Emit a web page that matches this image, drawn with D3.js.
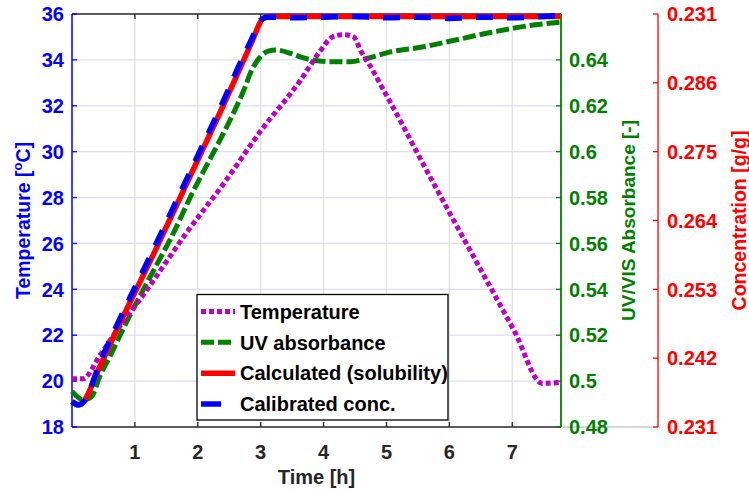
<!DOCTYPE html>
<html lang="en">
<head>
  <meta charset="UTF-8">
  <title>Temperature, UV absorbance and concentration</title>
  <script src="https://d3js.org/d3.v7.min.js"></script>
  <style>
    body { margin: 0; background: #fff; }
    svg text { font-family: "Liberation Sans", Arial, sans-serif; font-weight: bold; }
  </style>
</head>
<body>
  <svg width="749" height="490"></svg>

  <script>
    // --- data ---
    const tempTime   = [0.0, 0.17, 0.44, 0.71, 1.17, 1.83, 2.41, 3.0, 3.63, 3.95, 4.14, 4.32, 4.48, 4.59, 4.75, 4.91, 5.23, 5.44, 5.99, 6.47, 7.03, 7.48, 7.77];
    const tempValues = [20.1, 20.1, 21.1, 22.2, 23.9, 26.5, 28.6, 30.9, 33.1, 34.4, 35.0, 35.1, 35.0, 34.4, 33.7, 32.9, 31.3, 30.2, 27.4, 25.0, 22.2, 19.9, 19.95];

    const uvTime   = [0.0, 0.18, 0.31, 0.44, 0.6, 0.83, 1.3, 1.57, 1.91, 2.36, 2.57, 2.75, 2.84, 3.0, 3.12, 3.24, 3.48, 3.63, 4.1, 4.43, 4.7, 5.06, 5.59, 5.97, 6.61, 7.34, 7.77];
    const uvValues = [0.4955, 0.4918, 0.4932, 0.502, 0.5106, 0.5237, 0.5484, 0.5622, 0.5818, 0.6055, 0.617, 0.628, 0.6345, 0.6415, 0.6438, 0.6443, 0.6428, 0.6413, 0.6392, 0.6392, 0.6407, 0.6435, 0.6457, 0.6479, 0.6517, 0.6552, 0.6565];

    const calcTime   = [0.0, 0.12, 0.44, 0.71, 1.3, 1.86, 2.41, 2.68, 2.87, 3.03, 3.15, 4.0, 5.0, 6.0, 7.0, 7.77];
    const calcValues = [0.2350, 0.2346, 0.2406, 0.2465, 0.2587, 0.2707, 0.2825, 0.2885, 0.2928, 0.2962, 0.2966, 0.2966, 0.2966, 0.2966, 0.2966, 0.2966];

    const calibTime   = [0.0, 0.1, 0.2, 0.44, 0.71, 1.3, 1.86, 2.41, 2.68, 2.87, 2.98, 3.1, 3.5, 4.0, 4.5, 5.0, 5.5, 6.0, 6.5, 7.0, 7.5, 7.77];
    const calibValues = [0.2351, 0.2345, 0.2352, 0.2412, 0.2472, 0.2595, 0.2714, 0.2832, 0.2893, 0.2933, 0.2958, 0.2965, 0.2964, 0.2965, 0.2966, 0.2964, 0.2965, 0.2963, 0.2965, 0.2964, 0.2966, 0.2968];

    const timeTicks = [1, 2, 3, 4, 5, 6, 7];
    const tempTicks = [18, 20, 22, 24, 26, 28, 30, 32, 34, 36];
    const uvTicks   = [0.48, 0.5, 0.52, 0.54, 0.56, 0.58, 0.6, 0.62, 0.64];
    const concTicks = [0.231, 0.242, 0.253, 0.264, 0.275, 0.286, 0.297];
    const concTickLabels = ["0.231", "0.242", "0.253", "0.264", "0.275", "0.286", "0.231"];

    const legendNames = ["Temperature", "UV absorbance", "Calculated (solubility)", "Calibrated conc."];

    // --- layout ---
    const plotL = 72, plotR = 561, plotT = 14, plotB = 427;
    const redAxisX = 658;

    const C = { temp: "#bf00bf", uv: "#008000", calc: "#ff0000", calib: "#0000ff", dark: "#262626" };

    const svg = d3.select("svg");

    const x  = d3.scaleLinear().domain([0, 7.775]).range([plotL, plotR]);
    const yT = d3.scaleLinear().domain([18, 36]).range([plotB, plotT]);
    const yA = d3.scaleLinear().domain([0.48, 0.66]).range([plotB, plotT]);
    const yC = d3.scaleLinear().domain([0.231, 0.297]).range([plotB, plotT]);

    // grid
    const grid = svg.append("g");
    grid.selectAll(".vg").data(timeTicks).enter().append("line")
        .attr("x1", d => x(d)).attr("x2", d => x(d))
        .attr("y1", plotT).attr("y2", plotB)
        .attr("stroke", "#e2e2e2").attr("stroke-width", 1.3);
    grid.selectAll(".hg").data(tempTicks.filter(d => d > 18 && d < 36)).enter().append("line")
        .attr("x1", plotL).attr("x2", plotR)
        .attr("y1", d => yT(d)).attr("y2", d => yT(d))
        .attr("stroke", "#dcdcf8").attr("stroke-width", 1.3);

    // box lines
    svg.append("line").attr("x1", plotL).attr("x2", plotR).attr("y1", plotT).attr("y2", plotT)
       .attr("stroke", C.dark).attr("stroke-width", 1.5);
    svg.append("line").attr("x1", plotR).attr("x2", redAxisX).attr("y1", plotB).attr("y2", plotB)
       .attr("stroke", "#c8c8c8").attr("stroke-width", 1.3);
    svg.append("line").attr("x1", plotL).attr("x2", plotR).attr("y1", plotB).attr("y2", plotB)
       .attr("stroke", C.dark).attr("stroke-width", 1.5);

    // x ticks (bottom and top, pointing inwards)
    svg.selectAll(".xt").data(timeTicks).enter().append("line")
       .attr("x1", d => x(d)).attr("x2", d => x(d)).attr("y1", plotB).attr("y2", plotB - 5)
       .attr("stroke", C.dark).attr("stroke-width", 1.3);
    svg.selectAll(".xtt").data(timeTicks).enter().append("line")
       .attr("x1", d => x(d)).attr("x2", d => x(d)).attr("y1", plotT).attr("y2", plotT + 5)
       .attr("stroke", C.dark).attr("stroke-width", 1.3);
    svg.selectAll(".xl").data(timeTicks).enter().append("text")
       .attr("x", d => x(d)).attr("y", 459)
       .attr("text-anchor", "middle").attr("font-size", 20).attr("fill", C.dark)
       .text(d => d);
    svg.append("text").attr("x", (plotL + plotR) / 2).attr("y", 484)
       .attr("text-anchor", "middle").attr("font-size", 20).attr("fill", C.dark)
       .text("Time [h]");

    // left axis (temperature)
    svg.append("line").attr("x1", plotL).attr("x2", plotL).attr("y1", plotT).attr("y2", plotB)
       .attr("stroke", C.calib).attr("stroke-width", 1.5);
    svg.selectAll(".lt").data(tempTicks).enter().append("line")
       .attr("x1", plotL).attr("x2", plotL + 5).attr("y1", d => yT(d)).attr("y2", d => yT(d))
       .attr("stroke", C.calib).attr("stroke-width", 1.3);
    svg.selectAll(".ll").data(tempTicks).enter().append("text")
       .attr("x", 64).attr("y", d => yT(d)).attr("dy", "0.36em")
       .attr("text-anchor", "end").attr("font-size", 20).attr("fill", C.calib)
       .text(d => d);
    const tl = svg.append("text")
       .attr("transform", `translate(30,${(plotT + plotB) / 2}) rotate(-90)`)
       .attr("text-anchor", "middle").attr("font-size", 19.5).attr("fill", C.calib);
    tl.append("tspan").text("Temperature [");
    tl.append("tspan").attr("font-size", 13).attr("dy", -8).text("o");
    tl.append("tspan").attr("dy", 8).text("C]");

    // middle right axis (UV absorbance)
    svg.append("line").attr("x1", plotR).attr("x2", plotR).attr("y1", plotT).attr("y2", plotB)
       .attr("stroke", C.uv).attr("stroke-width", 1.8);
    svg.selectAll(".gt").data(uvTicks).enter().append("line")
       .attr("x1", plotR).attr("x2", plotR - 5).attr("y1", d => yA(d)).attr("y2", d => yA(d))
       .attr("stroke", C.uv).attr("stroke-width", 1.3);
    svg.selectAll(".gl").data(uvTicks).enter().append("text")
       .attr("x", 569).attr("y", d => yA(d)).attr("dy", "0.36em")
       .attr("font-size", 20).attr("fill", C.uv)
       .text(d => d3.format("")(d));
    svg.append("text")
       .attr("transform", `translate(635,${(plotT + plotB) / 2}) rotate(-90)`)
       .attr("text-anchor", "middle").attr("font-size", 19).attr("fill", C.uv)
       .text("UV/VIS Absorbance [-]");

    // far right axis (concentration)
    svg.append("line").attr("x1", redAxisX).attr("x2", redAxisX).attr("y1", plotT).attr("y2", plotB)
       .attr("stroke", C.calc).attr("stroke-width", 1.3);
    svg.selectAll(".rt").data(concTicks).enter().append("line")
       .attr("x1", redAxisX).attr("x2", redAxisX - 5).attr("y1", d => yC(d)).attr("y2", d => yC(d))
       .attr("stroke", C.calc).attr("stroke-width", 1.3);
    svg.selectAll(".rl").data(concTicks).enter().append("text")
       .attr("x", 667).attr("y", d => yC(d)).attr("dy", "0.36em")
       .attr("font-size", 20).attr("fill", C.calc)
       .text((d, i) => concTickLabels[i]);
    svg.append("text")
       .attr("transform", `translate(746,${(plotT + plotB) / 2}) rotate(-90)`)
       .attr("text-anchor", "middle").attr("font-size", 19.5).attr("fill", C.calc)
       .text("Concentration [g/g]");

    // curves
    const styles = {
      temp:  { color: C.temp,  width: 5,   dash: "5,3" },
      uv:    { color: C.uv,    width: 5,   dash: "13,4" },
      calc:  { color: C.calc,  width: 5.5, dash: null },
      calib: { color: C.calib, width: 5.5, dash: "17,14" }
    };

    function drawCurve(times, values, yScale, st) {
      const pts = times.map((t, i) => [t, values[i]]);
      const line = d3.line().x(d => x(d[0])).y(d => yScale(d[1])).curve(d3.curveMonotoneX);
      svg.append("path").datum(pts)
         .attr("d", line)
         .attr("fill", "none")
         .attr("stroke", st.color)
         .attr("stroke-width", st.width)
         .attr("stroke-dasharray", st.dash)
         .attr("stroke-linejoin", "round");
    }

    drawCurve(uvTime, uvValues, yA, styles.uv);
    drawCurve(tempTime, tempValues, yT, styles.temp);
    drawCurve(calcTime, calcValues, yC, styles.calc);
    drawCurve(calibTime, calibValues, yC, styles.calib);

    // legend
    const lg = svg.append("g");
    lg.append("rect").attr("x", 197).attr("y", 294.5).attr("width", 251).attr("height", 125.5)
      .attr("fill", "#fff").attr("stroke", "#000").attr("stroke-width", 1.3);
    const keys = ["temp", "uv", "calc", "calib"];
    const rowY = d3.scaleLinear().domain([0, 3]).range([311.5, 404]);
    keys.forEach((k, i) => {
      const st = styles[k];
      lg.append("line").attr("x1", 201).attr("x2", 235)
        .attr("y1", rowY(i)).attr("y2", rowY(i))
        .attr("stroke", st.color).attr("stroke-width", st.width)
        .attr("stroke-dasharray", k === "calib" ? "20,30" : st.dash);
      lg.append("text").attr("x", 240).attr("y", rowY(i)).attr("dy", "0.36em")
        .attr("font-size", 20).attr("fill", "#000")
        .text(legendNames[i]);
    });
  </script>
</body>
</html>
